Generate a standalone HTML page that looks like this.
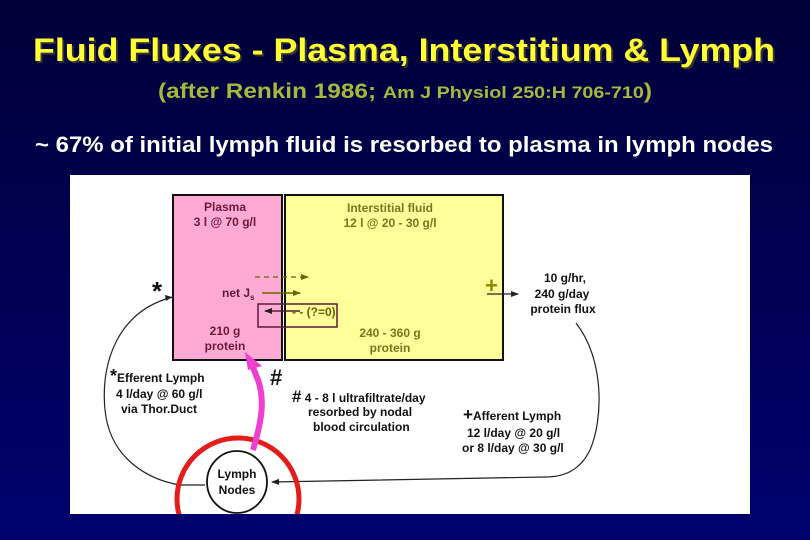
<!DOCTYPE html>
<html><head><meta charset="utf-8"><style>
html,body{margin:0;padding:0}
body{width:810px;height:540px;overflow:hidden;background:linear-gradient(#000038,#00006e);font-family:"Liberation Sans",sans-serif}
</style></head><body>
<svg width="810" height="540" xmlns="http://www.w3.org/2000/svg" style="position:absolute;left:0;top:0" font-family="Liberation Sans, sans-serif">
<defs>
<marker id="a" markerWidth="8" markerHeight="8" refX="7" refY="4" orient="auto" markerUnits="userSpaceOnUse"><path d="M0,1 L8,4 L0,7z" fill="#222"/></marker>
<marker id="o" markerWidth="8" markerHeight="8" refX="7" refY="4" orient="auto" markerUnits="userSpaceOnUse"><path d="M0,1 L8,4 L0,7z" fill="#666600"/></marker>
<clipPath id="c"><rect x="70" y="175" width="680" height="339"/></clipPath>
</defs>
<text x="406" y="63" text-anchor="middle" font-size="32" font-weight="bold" fill="#333" textLength="742" lengthAdjust="spacingAndGlyphs">Fluid Fluxes - Plasma, Interstitium &amp; Lymph</text>
<text x="404" y="61" text-anchor="middle" font-size="32" font-weight="bold" fill="#ffff33" textLength="742" lengthAdjust="spacingAndGlyphs">Fluid Fluxes - Plasma, Interstitium &amp; Lymph</text>
<text x="405" y="98" text-anchor="middle" font-weight="bold" fill="#a8b83c" textLength="494" lengthAdjust="spacingAndGlyphs"><tspan font-size="21">(after Renkin 1986; </tspan><tspan font-size="17">Am J Physiol 250:H 706-710</tspan><tspan font-size="21">)</tspan></text>
<text x="404" y="152" text-anchor="middle" font-size="22" font-weight="bold" fill="#fff" textLength="738" lengthAdjust="spacingAndGlyphs">~ 67% of initial lymph fluid is resorbed to plasma in lymph nodes</text>
<rect x="70" y="175" width="680" height="339" fill="#fff"/>
<g clip-path="url(#c)">
<rect x="173" y="195" width="109" height="165" fill="#ffaad4" stroke="#111" stroke-width="2"/>
<rect x="285" y="195" width="218" height="165" fill="#ffff99" stroke="#111" stroke-width="2"/>
<line x1="282" y1="195" x2="282" y2="360" stroke="#111" stroke-width="2"/>
<line x1="285" y1="195" x2="285" y2="360" stroke="#111" stroke-width="1.5" stroke-dasharray="3,2"/>
<g font-weight="bold" font-size="12" text-anchor="middle">
<text x="225" y="211" fill="#6a1a3a">Plasma</text>
<text x="225" y="226" fill="#6a1a3a">3 l @ 70 g/l</text>
<text x="225" y="335" fill="#6a1a3a">210 g</text>
<text x="225" y="350" fill="#6a1a3a">protein</text>
<text x="390" y="212" fill="#777720">Interstitial fluid</text>
<text x="390" y="227" fill="#777720">12 l @ 20 - 30 g/l</text>
<text x="390" y="337" fill="#777720">240 - 360 g</text>
<text x="390" y="352" fill="#777720">protein</text>
<text x="565" y="282" fill="#111">10 g/hr,</text>
<text x="562" y="298" fill="#111">240 g/day</text>
<text x="563" y="313" fill="#111">protein  flux</text>
</g>
<line x1="255" y1="277" x2="308" y2="277" stroke="#666600" stroke-width="1.3" stroke-dasharray="5,4" marker-end="url(#o)"/>
<line x1="262" y1="293" x2="300" y2="293" stroke="#666600" stroke-width="1.5" marker-end="url(#o)"/>
<text x="222" y="297" font-size="12" font-weight="bold" fill="#5a1a3a">net J<tspan font-size="8" dy="3">s</tspan></text>
<rect x="258" y="304" width="79" height="23" fill="none" stroke="#5a1a3a" stroke-width="1.5"/>
<line x1="300" y1="311" x2="265" y2="311" stroke="#5a1a3a" stroke-width="1.5" marker-end="url(#a)"/>
<text x="292" y="316" font-size="12" font-weight="bold" fill="#666600">- - (?=0)</text>
<text x="485" y="293" font-size="22" font-weight="bold" fill="#888800">+</text>
<line x1="487" y1="294" x2="518" y2="294" stroke="#222" stroke-width="1.2" marker-end="url(#a)"/>
<text x="152" y="300" font-size="26" font-weight="bold" fill="#111">*</text>
<path d="M173,297 C120,310 100,360 105,410 C110,460 150,480 180,485" fill="none" stroke="#222" stroke-width="1.2"/>
<path d="M180,485 L205,485" stroke="#222" stroke-width="1.2"/>
<path d="M576,323 C605,360 603,420 590,450 C580,470 565,477 545,477 L272,482" fill="none" stroke="#222" stroke-width="1.2" marker-end="url(#a)"/>
<path d="M172,297 l-7,-2 l1,6z" fill="#222"/>
<circle cx="238" cy="499" r="61" fill="none" stroke="#e51c1c" stroke-width="5"/>
<ellipse cx="237" cy="482" rx="30" ry="31" fill="#fff" stroke="#111" stroke-width="1.8"/>
<text x="237" y="478" font-size="12" font-weight="bold" text-anchor="middle" fill="#111">Lymph</text>
<text x="237" y="494" font-size="12" font-weight="bold" text-anchor="middle" fill="#111">Nodes</text>
<path d="M253,450 C262,420 265,400 258,380 L250,360" fill="none" stroke="#ee3fcf" stroke-width="6"/>
<path d="M245,352 L262,366 L248,370z" fill="#ee3fcf"/>
<g font-weight="bold" font-size="12" fill="#111">
<text x="110" y="382"><tspan font-size="18">*</tspan>Efferent Lymph</text>
<text x="116" y="398">4 l/day @ 60 g/l</text>
<text x="121" y="413">via Thor.Duct</text>
<text x="270" y="385" font-size="22">#</text>
<text x="292" y="402"><tspan font-size="17">#</tspan> 4 - 8 l ultrafiltrate/day</text>
<text x="308" y="416">resorbed by nodal</text>
<text x="313" y="431">blood circulation</text>
<text x="463" y="420"><tspan font-size="17">+</tspan>Afferent Lymph</text>
<text x="467" y="437">12 l/day @ 20 g/l</text>
<text x="462" y="452">or 8 l/day @ 30 g/l</text>
</g>
</g>
</svg>
</body></html>
